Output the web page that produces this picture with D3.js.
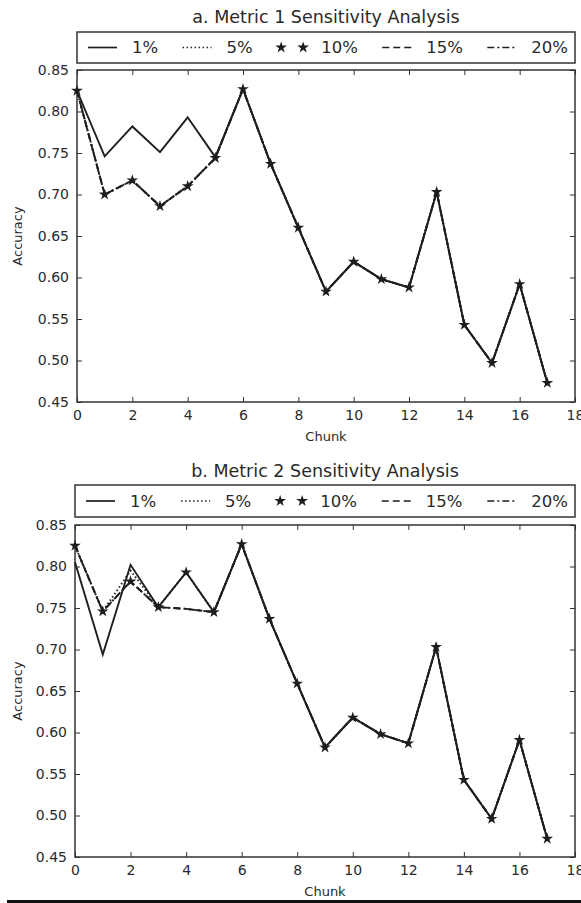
<!DOCTYPE html>
<html>
<head>
<meta charset="utf-8">
<script src="https://cdn.jsdelivr.net/npm/d3@7"></script>
<style>
  body { margin: 0; background: #fff; }
  text { font-family: "DejaVu Sans", sans-serif; fill: #2a2a2a; }
</style>
</head>
<body>
<div id="chart"></div>
<script>
		var width = 581;
		var height = 903;

		// chunk index and axis ticks
		var chunks = [0, 1, 2, 3, 4, 5, 6, 7, 8, 9, 10, 11, 12, 13, 14, 15, 16, 17];
		var xTicks = [0, 2, 4, 6, 8, 10, 12, 14, 16, 18];
		var yTicks = [0.45, 0.50, 0.55, 0.60, 0.65, 0.70, 0.75, 0.80, 0.85];
		var seriesNames = ["1%", "5%", "10%", "15%", "20%"];

		// a. Metric 1
		var m1_1 = [0.825, 0.746, 0.782, 0.751, 0.793, 0.745, 0.827, 0.737, 0.660, 0.583, 0.619, 0.598, 0.588, 0.703, 0.543, 0.497, 0.592, 0.473];
		var m1_5 = [0.825, 0.700, 0.717, 0.686, 0.710, 0.744, 0.827, 0.737, 0.660, 0.583, 0.619, 0.598, 0.588, 0.703, 0.543, 0.497, 0.592, 0.473];
		var m1_10 = [0.825, 0.700, 0.717, 0.686, 0.710, 0.744, 0.827, 0.737, 0.660, 0.583, 0.619, 0.598, 0.588, 0.703, 0.543, 0.497, 0.592, 0.473];
		var m1_15 = [0.825, 0.700, 0.717, 0.686, 0.710, 0.744, 0.827, 0.737, 0.660, 0.583, 0.619, 0.598, 0.588, 0.703, 0.543, 0.497, 0.592, 0.473];
		var m1_20 = [0.825, 0.700, 0.717, 0.686, 0.710, 0.744, 0.827, 0.737, 0.660, 0.583, 0.619, 0.598, 0.588, 0.703, 0.543, 0.497, 0.592, 0.473];

		// b. Metric 2
		var m2_1 = [0.805, 0.694, 0.802, 0.751, 0.793, 0.745, 0.827, 0.737, 0.659, 0.582, 0.618, 0.598, 0.587, 0.703, 0.543, 0.496, 0.591, 0.472];
		var m2_5 = [0.825, 0.746, 0.795, 0.751, 0.793, 0.745, 0.827, 0.737, 0.659, 0.582, 0.618, 0.598, 0.587, 0.703, 0.543, 0.496, 0.591, 0.472];
		var m2_10 = [0.825, 0.746, 0.782, 0.751, 0.793, 0.745, 0.827, 0.737, 0.659, 0.582, 0.618, 0.598, 0.587, 0.703, 0.543, 0.496, 0.591, 0.472];
		var m2_15 = [0.825, 0.746, 0.782, 0.751, 0.749, 0.745, 0.827, 0.737, 0.659, 0.582, 0.618, 0.598, 0.587, 0.703, 0.543, 0.496, 0.591, 0.472];
		var m2_20 = [0.825, 0.746, 0.782, 0.751, 0.749, 0.745, 0.827, 0.737, 0.659, 0.582, 0.618, 0.598, 0.587, 0.703, 0.543, 0.496, 0.591, 0.472];

		var svg = d3.select("#chart")
					.append("svg")
					.attr("width", width)
					.attr("height", height);

		svg.append("rect")
			.attr("width", width)
			.attr("height", height)
			.attr("fill", "#fff");

		// line styles per series: null means markers only
		var dashes = ["none", "1.5,2.5", null, "7,4", "7,3,2,3"];
		var ink = "#1e1e1e";

		var star = d3.symbol().type(d3.symbolStar).size(42);

		function drawPanel(p, data){
			var x = d3.scaleLinear().domain([0, 18]).range([p.left, p.right]);
			var y = d3.scaleLinear().domain([0.45, 0.85]).range([p.bottom, p.top]);

			var g = svg.append("g");

			// title
			g.append("text")
				.attr("x", (p.left + p.right) / 2)
				.attr("y", p.titleY)
				.attr("text-anchor", "middle")
				.attr("font-size", 17.5)
				.text(p.title);

			// axes (ticks inside, on all four sides)
			g.append("g")
				.attr("transform", "translate(0," + p.bottom + ")")
				.call(d3.axisBottom(x).tickValues(xTicks).tickSize(-5).tickPadding(8).tickFormat(d3.format("d")))
				.call(styleAxis);
			g.append("g")
				.attr("transform", "translate(0," + p.top + ")")
				.call(d3.axisTop(x).tickValues(xTicks).tickSize(-5).tickFormat(""))
				.call(styleAxis);
			g.append("g")
				.attr("transform", "translate(" + p.left + ",0)")
				.call(d3.axisLeft(y).tickValues(yTicks).tickSize(-5).tickPadding(8).tickFormat(d3.format(".2f")))
				.call(styleAxis);
			g.append("g")
				.attr("transform", "translate(" + p.right + ",0)")
				.call(d3.axisRight(y).tickValues(yTicks).tickSize(-5).tickFormat(""))
				.call(styleAxis);

			g.append("rect")
				.attr("x", p.left)
				.attr("y", p.top)
				.attr("width", p.right - p.left)
				.attr("height", p.bottom - p.top)
				.attr("fill", "none")
				.attr("stroke", "#333")
				.attr("stroke-width", 1.5);

			// axis labels
			g.append("text")
				.attr("x", (p.left + p.right) / 2)
				.attr("y", p.bottom + p.xLabelDy)
				.attr("text-anchor", "middle")
				.attr("font-size", 13)
				.text("Chunk");
			g.append("text")
				.attr("transform", "translate(22," + ((p.top + p.bottom) / 2) + ") rotate(-90)")
				.attr("text-anchor", "middle")
				.attr("font-size", 13)
				.text("Accuracy");

			var line = d3.line()
				.x(function(d, i){ return x(chunks[i]); })
				.y(function(d){ return y(d); });

			data.forEach(function(s, k){
				if(dashes[k] === null){
					g.selectAll(null)
						.data(s)
						.enter()
						.append("path")
						.attr("d", star)
						.attr("transform", function(d, i){ return "translate(" + x(chunks[i]) + "," + y(d) + ")"; })
						.attr("fill", ink);
				}else{
					g.append("path")
						.datum(s)
						.attr("d", line)
						.attr("fill", "none")
						.attr("stroke", ink)
						.attr("stroke-width", 1.9)
						.attr("stroke-dasharray", dashes[k]);
				}
			});

			drawLegend(g, p);
		}

		function styleAxis(sel){
			sel.select(".domain").remove();
			sel.selectAll(".tick line").attr("stroke", "#333").attr("stroke-width", 1);
			sel.selectAll(".tick text")
				.attr("font-size", 14)
				.attr("font-family", "DejaVu Sans, sans-serif")
				.attr("fill", "#333");
		}

		function drawLegend(g, p){
			var lg = g.append("g");
			lg.append("rect")
				.attr("x", p.left)
				.attr("y", p.legTop)
				.attr("width", p.right - p.left)
				.attr("height", p.legBottom - p.legTop)
				.attr("fill", "#fff")
				.attr("stroke", "#333")
				.attr("stroke-width", 1.5);

			var handle = 29, gapText = 15, padL = 11, padR = 7;
			var cy = (p.legTop + p.legBottom) / 2;

			var labels = lg.selectAll(".leglabel")
				.data(seriesNames)
				.enter()
				.append("text")
				.attr("class", "leglabel")
				.attr("font-size", 16.5)
				.attr("dominant-baseline", "central")
				.attr("y", cy)
				.text(function(d){ return d; });

			var widths = [];
			labels.each(function(){ widths.push(this.getComputedTextLength()); });
			var total = d3.sum(widths) + seriesNames.length * (handle + gapText);
			var gap = (p.right - p.left - padL - padR - total) / (seriesNames.length - 1);

			var cx = p.left + padL;
			seriesNames.forEach(function(name, k){
				if(dashes[k] === null){
					[cx + 4, cx + handle - 3].forEach(function(sx){
						lg.append("path")
							.attr("d", star)
							.attr("transform", "translate(" + sx + "," + cy + ")")
							.attr("fill", ink);
					});
				}else{
					lg.append("line")
						.attr("x1", cx)
						.attr("x2", cx + handle)
						.attr("y1", cy)
						.attr("y2", cy)
						.attr("stroke", ink)
						.attr("stroke-width", 1.7)
						.attr("stroke-dasharray", dashes[k]);
				}
				labels.filter(function(d){ return d === name; })
					.attr("x", cx + handle + gapText);
				cx += handle + gapText + widths[k] + gap;
			});
		}

		drawPanel({
			title: "a. Metric 1 Sensitivity Analysis",
			titleY: 23, legTop: 32, legBottom: 63,
			top: 70, bottom: 402, left: 77, right: 575, xLabelDy: 39
		}, [m1_1, m1_5, m1_10, m1_15, m1_20]);

		drawPanel({
			title: "b. Metric 2 Sensitivity Analysis",
			titleY: 477, legTop: 485, legBottom: 517,
			top: 525, bottom: 857, left: 75, right: 575, xLabelDy: 39
		}, [m2_1, m2_5, m2_10, m2_15, m2_20]);

		// rule along the bottom edge of the scanned figure
		svg.append("rect")
			.attr("x", 7)
			.attr("y", 900)
			.attr("width", width - 7)
			.attr("height", 3)
			.attr("fill", "#111");
</script>
</body>
</html>
